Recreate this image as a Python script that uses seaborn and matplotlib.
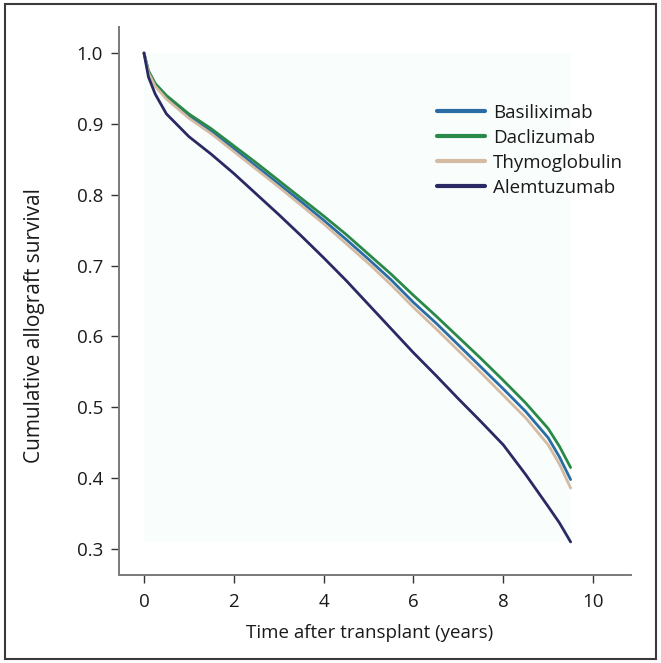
import numpy as np
import pandas as pd
import matplotlib
matplotlib.use("Agg")
import matplotlib.pyplot as plt
import seaborn as sns
from matplotlib.patches import Rectangle
from matplotlib.lines import Line2D

# ---- data ----
times = [0, 0.1, 0.25, 0.5, 1, 1.5, 2, 2.5, 3, 3.5, 4, 4.5, 5, 5.5, 6,
         6.5, 7, 7.5, 8, 8.5, 9, 9.25, 9.5]
basiliximab = [1.0, 0.973, 0.955, 0.937, 0.911, 0.889, 0.865, 0.84, 0.815, 0.79,
               0.764, 0.737, 0.709, 0.68, 0.648, 0.619, 0.588, 0.557, 0.526,
               0.494, 0.457, 0.43, 0.398]
daclizumab = [1.0, 0.975, 0.957, 0.94, 0.914, 0.893, 0.869, 0.845, 0.82, 0.795,
              0.77, 0.744, 0.716, 0.688, 0.658, 0.629, 0.599, 0.569, 0.538,
              0.506, 0.47, 0.445, 0.415]
thymoglobulin = [1.0, 0.972, 0.953, 0.935, 0.908, 0.886, 0.861, 0.836, 0.811,
                 0.785, 0.759, 0.731, 0.703, 0.673, 0.641, 0.611, 0.58, 0.549,
                 0.517, 0.485, 0.447, 0.42, 0.386]
alemtuzumab = [1.0, 0.966, 0.942, 0.914, 0.882, 0.857, 0.83, 0.801, 0.772, 0.742,
               0.711, 0.679, 0.645, 0.611, 0.577, 0.545, 0.512, 0.48, 0.447,
               0.405, 0.36, 0.337, 0.31]
groups = ["Basiliximab", "Daclizumab", "Thymoglobulin", "Alemtuzumab"]
xticks = [0, 2, 4, 6, 8, 10]
yticks = [0.3, 0.4, 0.5, 0.6, 0.7, 0.8, 0.9, 1.0]

series = dict(zip(groups, [basiliximab, daclizumab, thymoglobulin, alemtuzumab]))
df = pd.concat([pd.DataFrame({"time": times, "survival": v, "drug": k})
                for k, v in series.items()], ignore_index=True)

colors = {"Basiliximab": "#2a6ca6", "Daclizumab": "#2a8848",
          "Thymoglobulin": "#d4bba2", "Alemtuzumab": "#2a2964"}

sns.set_theme(style="white")
plt.rcParams["font.family"] = ["Open Sans", "DejaVu Sans"]

fig = plt.figure(figsize=(6.61, 6.63), dpi=100)
ax = fig.add_axes([0.180, 0.1327, 0.775, 0.8266])

# faint background panel behind the curves
ymin_all = min(min(v) for v in series.values())
ax.add_patch(Rectangle((min(times), ymin_all), max(times) - min(times),
                       1.0 - ymin_all,
                       facecolor="#f9fdfc", edgecolor="none", zorder=0))

sns.lineplot(data=df, x="time", y="survival", hue="drug", hue_order=groups,
             palette=colors, linewidth=2.0, sort=False, estimator=None,
             ax=ax, legend=False, zorder=3)

ax.set_xlim(-0.557, 10.85)
ax.set_ylim(0.2633, 1.0367)
ax.set_xticks(xticks)
ax.set_xticklabels([str(t) for t in xticks])
ax.set_yticks(yticks)
ax.set_yticklabels([f"{t:.1f}" for t in yticks])

for s in ["top", "right"]:
    ax.spines[s].set_visible(False)
for s in ["left", "bottom"]:
    ax.spines[s].set_color("#7a7a7a")
    ax.spines[s].set_linewidth(1.4)
ax.tick_params(axis="both", which="major", direction="out", length=6,
               width=1.0, color="#333333", labelsize=13.5, labelcolor="#1a1a1a",
               bottom=True, left=True)
ax.tick_params(axis="y", pad=5.5)
ax.tick_params(axis="x", pad=7)

ax.set_xlabel("Time after transplant (years)", fontsize=13.5, color="#1a1a1a")
ax.xaxis.set_label_coords(0.49, -0.09)
ax.set_ylabel("Cumulative allograft survival", fontsize=15, color="#1a1a1a")
ax.yaxis.set_label_coords(-0.145, 0.456)
ax.set_facecolor("white")

handles = [Line2D([], [], color=colors[g], linewidth=3.0) for g in groups]
leg = ax.legend(handles, groups, loc="upper left", bbox_to_anchor=(0.621, 0.860),
                frameon=False, fontsize=13.5, handlelength=2.56,
                handletextpad=0.43, labelspacing=0.37, borderpad=0,
                borderaxespad=0)
for t in leg.get_texts():
    t.set_color("#1a1a1a")

# outer frame around the whole figure
fig.patches.append(Rectangle((5 / 661, 4 / 663), 651 / 661, 655 / 663,
                             transform=fig.transFigure, fill=False,
                             edgecolor="#3a3a3a", linewidth=1.5))

fig.savefig("out.png", dpi=100)
